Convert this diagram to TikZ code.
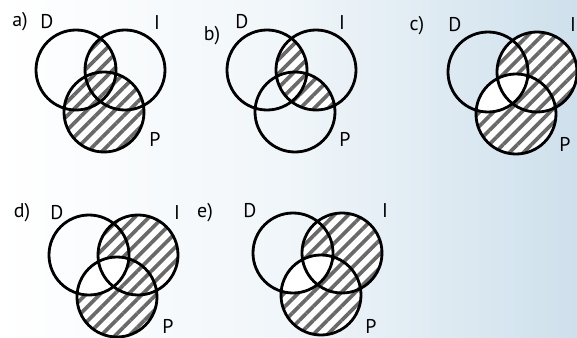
\documentclass[tikz,border=0pt]{standalone}
\usepackage{fontspec}
\setmainfont{PT Sans}
\usepackage{xcolor}
\usepackage{tikz}
\usetikzlibrary{patterns.meta}

\definecolor{bgblue}{RGB}{206,224,236}
\definecolor{stripe}{RGB}{105,105,105}

\begin{document}
\begin{tikzpicture}[x=0.03cm,y=-0.03cm,
    ring/.style={draw=black,line width=2.4pt},
    hatch/.style={preaction={fill=white},pattern={Lines[angle=45,distance=8.5pt,line width=3.2pt]},pattern color=stripe},
    lbl/.style={anchor=base,inner sep=0pt,font=\fontsize{17}{17}\selectfont}]

  \useasboundingbox (0,0) rectangle (577,338);
  \shade[left color=white,right color=bgblue,middle color=white!70!bgblue] (0,0) rectangle (577,338);

  % circle centres
  \foreach \t/\x/\y in {a/76/70,b/267/70,c/488/72,d/89/255,e/293/253}{
    \coordinate (\t D) at (\x,\y);
    \coordinate (\t I) at (\x+49,\y);
    \coordinate (\t P) at (\x+28,\y+42);
  }

  % a) (D and I) or P
  \fill[hatch] (aP) circle (40);
  \begin{scope}
    \clip (aD) circle (40);
    \fill[hatch] (aI) circle (40);
  \end{scope}

  % b) I and (D or P)
  \begin{scope}
    \clip (bI) circle (40);
    \fill[hatch] (bD) circle (40);
    \fill[hatch] (bP) circle (40);
  \end{scope}

  % c), d), e) (I or P) without D and P
  \foreach \t in {c,d,e}{
    \fill[hatch] (\t I) circle (40) (\t P) circle (40);
    \begin{scope}
      \clip (\t D) circle (40);
      \fill[white] (\t P) circle (40);
    \end{scope}
  }

  \foreach \t in {a,b,c,d,e}
    \draw[ring] (\t D) circle (40) (\t I) circle (40) (\t P) circle (40);

  \node (alab) [lbl] at (20,27)  {a)};
  \node (aDl)  [lbl] at (47,29)  {D};
  \node (aIl)  [lbl] at (157,30) {I};
  \node (aPl)  [lbl] at (155,147) {P};

  \node (blab) [lbl] at (212,41) {b)};
  \node (bDl)  [lbl] at (242,29) {D};
  \node (bIl)  [lbl] at (342,30) {I};
  \node (bPl)  [lbl] at (345,147) {P};

  \node (clab) [lbl] at (417,31) {c)};
  \node (cDl)  [lbl] at (455,32) {D};
  \node (cIl)  [lbl] at (573,32) {I};
  \node (cPl)  [lbl] at (565,152) {P};

  \node (dlab) [lbl] at (22,218) {d)};
  \node (dDl)  [lbl] at (57,219) {D};
  \node (dIl)  [lbl] at (177,220) {I};
  \node (dPl)  [lbl] at (168,333) {P};

  \node (elab) [lbl] at (205,218) {e)};
  \node (eDl)  [lbl] at (250,218) {D};
  \node (eIl)  [lbl] at (385,218) {I};
  \node (ePl)  [lbl] at (371,333) {P};

\end{tikzpicture}
\end{document}
